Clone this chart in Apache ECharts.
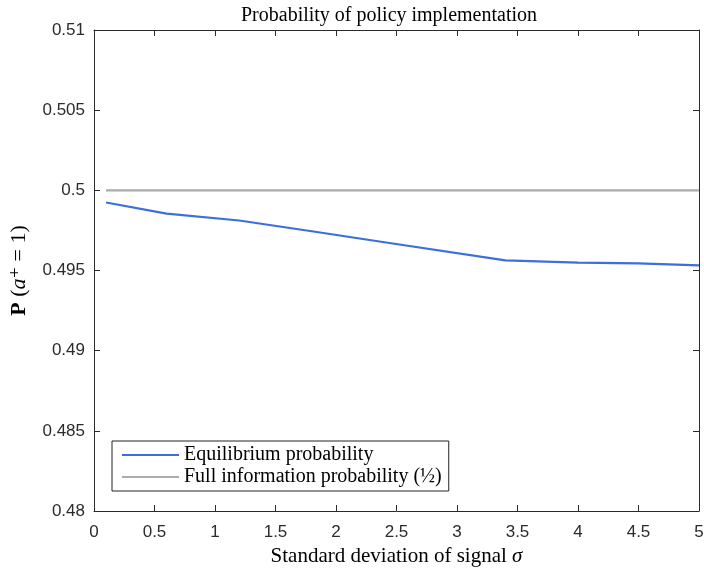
<!DOCTYPE html>
<html>
<head>
<meta charset="utf-8">
<script src="https://cdn.jsdelivr.net/npm/echarts@6/dist/echarts.min.js"></script>
<style>html,body{margin:0;padding:0;background:#fff}#c{width:704px;height:571px}</style>
</head>
<body>
<div id="c"></div>
<script>
var sigma = [0.1, 0.6, 1.2, 1.8, 2.4, 3.4, 4.0, 4.5, 5.0];
var equilibrium = [0.49924, 0.49855, 0.49812, 0.49745, 0.49676, 0.49563, 0.49549, 0.49545, 0.49532];
var fullInfo = [0.5, 0.5, 0.5, 0.5, 0.5, 0.5, 0.5, 0.5, 0.5];
var seriesNames = ['Equilibrium probability', 'Full information probability (\u00BD)'];

var axisColor = '#2b2b2b';
var serif = '"Liberation Serif", "DejaVu Serif", serif';
var sans = '"Liberation Sans", Arial, sans-serif';

function pair(a, b) { return a.map(function (v, i) { return [v, b[i]]; }); }
function tick() { return {show: true, inside: false, length: -6, lineStyle: {color: axisColor, width: 1}}; }
function line() { return {show: true, onZero: false, lineStyle: {color: axisColor, width: 1}}; }

var chart = echarts.init(document.getElementById('c'), null, {renderer: 'canvas'});
chart.setOption({
  backgroundColor: '#ffffff',
  animation: false,
  title: {
    text: 'Probability of policy implementation',
    left: 384, top: 1, textAlign: 'center',
    textStyle: {fontFamily: serif, fontSize: 20, fontWeight: 'normal', color: '#000'}
  },
  grid: {left: 94, right: 5, top: 30, bottom: 60, containLabel: false, outerBoundsMode: 'none'},
  legend: {
    data: seriesNames,
    orient: 'vertical',
    left: 112, top: 441,
    borderColor: '#222', borderWidth: 1, borderRadius: 0,
    padding: [4, 7, 4, 10],
    itemGap: 2,
    icon: 'rect', itemWidth: 57, itemHeight: 2,
    textStyle: {fontFamily: serif, fontSize: 20, color: '#000'},
    backgroundColor: '#fff'
  },
  xAxis: [
    {
      type: 'value', min: 0, max: 5, interval: 0.5, position: 'bottom',
      axisLine: line(), axisTick: tick(), splitLine: {show: false},
      name: 'Standard deviation of signal {i|\u03C3}',
      nameLocation: 'middle', nameGap: 35,
      nameTextStyle: {fontFamily: serif, fontSize: 21, color: '#000',
        rich: {i: {fontFamily: serif, fontStyle: 'italic', fontSize: 21, color: '#000'}}},
      axisLabel: {show: true, fontFamily: sans, fontSize: 17, color: '#2b2b2b', margin: 13,
        formatter: function (v) { return String(v); }}
    },
    {
      type: 'value', min: 0, max: 5, interval: 0.5, position: 'top',
      axisLine: line(), axisTick: tick(), splitLine: {show: false}, axisLabel: {show: false}
    }
  ],
  yAxis: [
    {
      type: 'value', min: 0.48, max: 0.51, interval: 0.005, position: 'left',
      axisLine: line(), axisTick: tick(), splitLine: {show: false},
      name: '{b|P} ({i|a}\u207A = 1)',
      nameLocation: 'middle', nameGap: 64, nameRotate: 90,
      nameTextStyle: {fontFamily: serif, fontSize: 22, color: '#000',
        rich: {
          b: {fontFamily: serif, fontWeight: 'bold', fontSize: 22, color: '#000'},
          i: {fontFamily: serif, fontStyle: 'italic', fontSize: 22, color: '#000'}
        }},
      axisLabel: {show: true, fontFamily: sans, fontSize: 17, color: '#2b2b2b', margin: 9,
        formatter: function (v) { return String(parseFloat(v.toFixed(3))); }}
    },
    {
      type: 'value', min: 0.48, max: 0.51, interval: 0.005, position: 'right',
      axisLine: line(), axisTick: tick(), splitLine: {show: false}, axisLabel: {show: false}
    }
  ],
  series: [
    {
      name: seriesNames[0], type: 'line', xAxisIndex: 0, yAxisIndex: 0,
      data: pair(sigma, equilibrium), symbol: 'none', smooth: false,
      lineStyle: {color: '#3b6fdb', width: 2.2}, itemStyle: {color: '#3b6fdb'}
    },
    {
      name: seriesNames[1], type: 'line', xAxisIndex: 0, yAxisIndex: 0,
      data: pair(sigma, fullInfo), symbol: 'none',
      lineStyle: {color: '#ababab', width: 2.2}, itemStyle: {color: '#ababab'}
    }
  ]
});
</script>
</body>
</html>
